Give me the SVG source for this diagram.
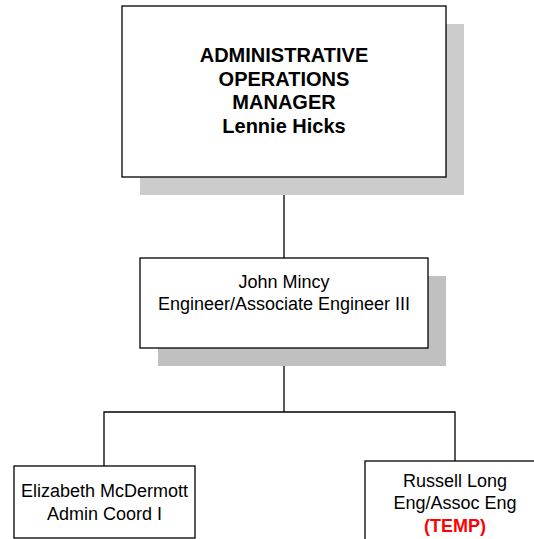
<svg xmlns="http://www.w3.org/2000/svg" width="534" height="539" viewBox="0 0 534 539">
  <style>
    .box { fill: #ffffff; stroke: #000000; stroke-width: 1.3; }
    .shadow { stroke: none; }
    .line { fill: none; stroke: #000000; stroke-width: 1.3; }
    text { font-family: "Liberation Sans", Arial, sans-serif; text-anchor: middle; fill: #000000; }
    .title { font-size: 20px; font-weight: bold; }
    .label { font-size: 18px; }
    .temp { font-size: 18px; font-weight: bold; fill: #ff0000; }
  </style>
  <rect width="534" height="539" fill="#ffffff"/>

  <g id="connectors">
    <line class="line" x1="284" y1="177" x2="284" y2="258"/>
    <line class="line" x1="284" y1="348" x2="284" y2="412"/>
    <polyline class="line" points="104,466 104,412 455,412 455,461"/>
  </g>

  <g id="manager">
    <rect class="shadow" x="140" y="24" width="324" height="171" fill="#cccccc"/>
    <rect class="box" x="122" y="6" width="324" height="171"/>
    <text class="title" x="284" y="62">ADMINISTRATIVE</text>
    <text class="title" x="284" y="86">OPERATIONS</text>
    <text class="title" x="284" y="109">MANAGER</text>
    <text class="title" x="284" y="133">Lennie Hicks</text>
  </g>

  <g id="engineer">
    <rect class="shadow" x="158" y="276" width="288" height="90" fill="#c0c0c0"/>
    <rect class="box" x="140" y="258" width="288" height="90"/>
    <text class="label" x="284" y="288">John Mincy</text>
    <text class="label" x="284" y="310">Engineer/Associate Engineer III</text>
  </g>

  <g id="admin-coord">
    <rect class="box" x="14" y="466" width="181" height="72"/>
    <text class="label" x="104.5" y="497">Elizabeth McDermott</text>
    <text class="label" x="104.5" y="520">Admin Coord I</text>
  </g>

  <g id="eng-temp">
    <rect class="box" x="365" y="461" width="180" height="90" stroke="#333333"/>
    <text class="label" x="455" y="487">Russell Long</text>
    <text class="label" x="455" y="509">Eng/Assoc Eng</text>
    <text class="temp" x="455" y="532">(TEMP)</text>
  </g>
</svg>
